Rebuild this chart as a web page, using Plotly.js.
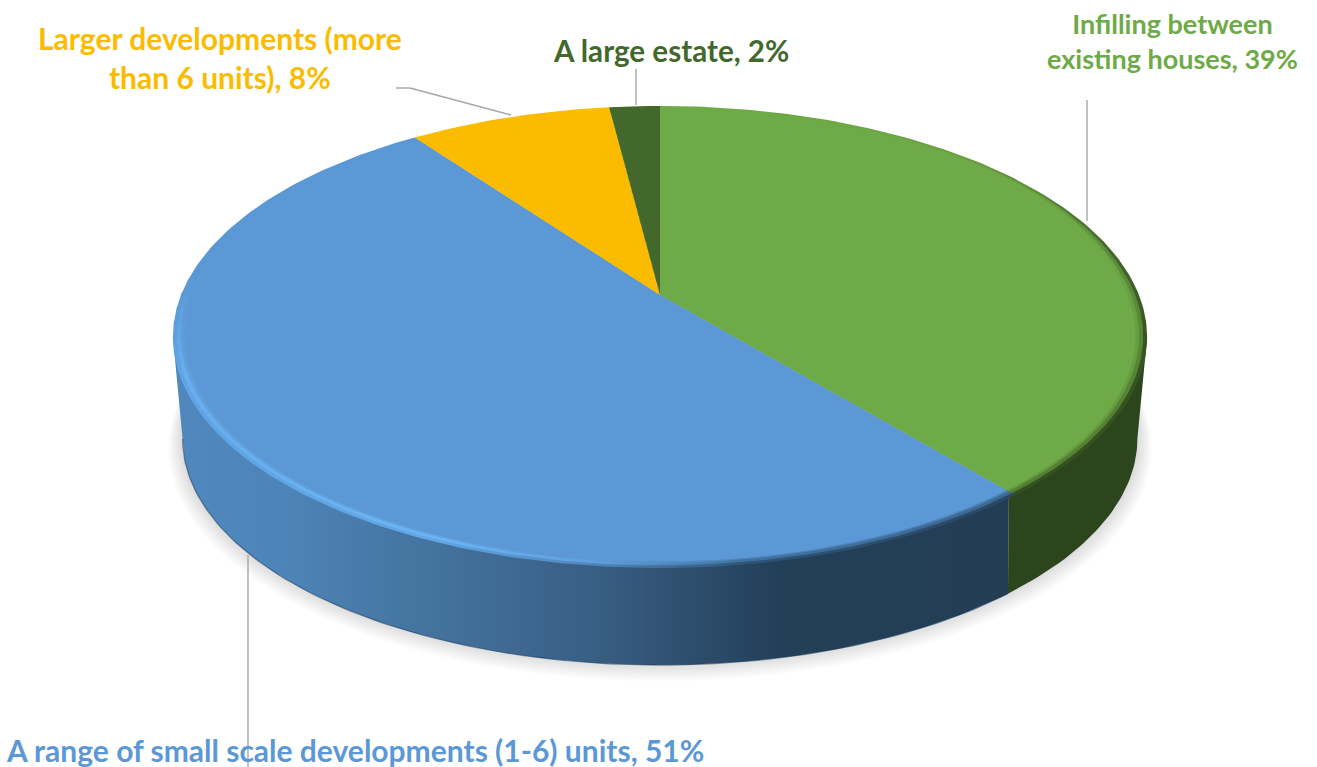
<!DOCTYPE html>
<html>
<head>
<meta charset="utf-8">
<script src="https://cdn.plot.ly/plotly-3.0.1.min.js"></script>
<style>
html,body{margin:0;padding:0;background:#fff;width:1317px;height:767px;overflow:hidden}
#wrap{position:relative;width:1317px;height:767px;overflow:hidden}
#base{position:absolute;left:0;top:0;width:1317px;height:767px}
#pie{position:absolute;left:0;top:0;width:1200px;height:1200px;transform-origin:0 0;pointer-events:none}
</style>
</head>
<body>
<div id="wrap"><div id="base"></div><div id="pie"></div></div>
<script>
// ---- data ----
const categories = ["Infilling between existing houses", "A range of small scale developments (1-6) units", "Larger developments (more than 6 units)", "A large estate"];
const shares = [39, 51, 8, 2];
const sliceColors = ["#6eaa47", "#5b98d5", "#fbbc00", "#43682b"];
const labelTexts = ["Infilling between<br>existing houses, 39%", "A range of small scale developments (1-6) units, 51%", "Larger developments (more<br>than 6 units), 8%", "A large estate, 2%"];
const labelSizes = [27, 30, 30, 29.6];

// ---- view geometry (perspective of the tilted disc) ----
const view = {X0: 660, Y0: 295, s: 479, t: 223.4, p: 0.1818, inner: 0.976};
const topPlane = {k: 1, y0: 295};
const lowPlane = {k: 0.98, y0: 397.5};
const total = shares.reduce((a, b) => a + b, 0);
const cum = [0];
shares.forEach(v => cum.push(cum[cum.length - 1] + v / total));
const silhouetteR = Math.acos(-view.p) / (2 * Math.PI);   // right-hand limit of the visible wall
const silhouetteL = 1 - silhouetteR;

function pt(f, r, plane) {
  const a = f * 2 * Math.PI, u = r * Math.sin(a), v = -r * Math.cos(a), w = 1 - view.p * v;
  return [view.X0 + view.s * plane.k * u / w, plane.y0 + view.t * plane.k * v / w];
}
function arc(f0, f1, r, plane) {
  const n = Math.max(4, Math.ceil(Math.abs(f1 - f0) * 360)), out = [];
  for (let i = 0; i <= n; i++) out.push(pt(f0 + (f1 - f0) * i / n, r, plane));
  return out;
}
function poly(points, extra) {
  return Object.assign({x: points.map(p => p[0]), y: points.map(p => p[1]), mode: 'lines', fill: 'toself',
    line: {width: 0}, hoverinfo: 'skip', showlegend: false, type: 'scatter'}, extra);
}
function mix(a, b, m) {
  const h = c => [1, 3, 5].map(i => parseInt(c.slice(i, i + 2), 16));
  const A = h(a), B = h(b);
  return 'rgb(' + A.map((v, i) => Math.round(v + (B[i] - v) * m)).join(',') + ')';
}
const traces = [];

// soft ground shadow
for (let i = 12; i >= 1; i--) {
  const f = i / 12;
  const plane = {k: lowPlane.k * (1 + .03 * f), y0: lowPlane.y0 + 10 * f - 2};
  traces.push(poly(arc(0, 1, 1, plane), {fillcolor: 'rgba(150,150,150,.028)'}));
}

// side wall (its upper edge runs under the bevel rings)
const wallBlue = [pt(cum[1], .985, topPlane)].concat(arc(cum[1], silhouetteL, .985, topPlane), [pt(silhouetteL, 1, topPlane)], arc(silhouetteL, cum[1], 1, lowPlane));
const blueXs = wallBlue.map(p => p[0]);
traces.push(poly(wallBlue, {fillgradient: {type: 'horizontal', start: Math.min(...blueXs), stop: Math.max(...blueXs),
  colorscale: [[0, '#5088bd'], [.12, '#4e85b9'], [.3, '#44749f'], [.5, '#395f85'], [.72, '#234059'], [1, '#233d55']]}}));
const wallGreen = [pt(silhouetteR, 1, topPlane)].concat(arc(silhouetteR, cum[1], .985, topPlane), arc(cum[1], silhouetteR, 1, lowPlane));
traces.push(poly(wallGreen, {fillcolor: '#2d451c'}));
// darker bottom edge of the wall
const edge = arc(cum[1], silhouetteL, 1, lowPlane);
traces.push({x: edge.map(p => p[0]), y: edge.map(p => p[1]), mode: 'lines',
  line: {color: 'rgba(30,60,95,.55)', width: 1.2}, hoverinfo: 'skip', showlegend: false, type: 'scatter'});

// bevel rings around the pie face: [outer r, inner r, blue stops, green stops]
const rings = [
  [1, .992,
   [[0, '#60a4e3'], [.3, '#61a6e6'], [.5, '#4f86ba'], [.68, '#2f5476'], [1, '#294866']],
   [[0, '#6eaa47'], [.15, '#66983f'], [.35, '#46692d'], [.6, '#38561f'], [1, '#33501f']]],
  [.992, .984,
   [[0, '#66aeee'], [.3, '#6cb5f5'], [.5, '#5f9fdc'], [.68, '#40729f'], [1, '#3c6891']],
   [[0, '#6eaa47'], [.2, '#6ca645'], [.4, '#5a8a3a'], [1, '#527f31']]],
  [.984, view.inner,
   [[0, '#5f9fdd'], [.3, '#62a4e2'], [.5, '#5b98d5'], [.68, '#4f86bd'], [1, '#4c81b5']],
   [[0, '#6eaa47'], [.3, '#6eaa47'], [.5, '#689f43'], [1, '#649a40']]]
];
const topY = pt(0, 1, topPlane)[1], bottomGreenY = pt(cum[1], 1, topPlane)[1];
const frontEnd = .70, fadeEnd = .76, fadeSteps = 6;
rings.forEach(rg => {
  const [ro, ri, blueStops, greenStops] = rg;
  const under = ri - .015;   // overlap the next ring so no seam shows
  const band = (f0, f1) => arc(f0, f1, ro, topPlane).concat(arc(f1, f0, under, topPlane));
  traces.push(poly(band(cum[0], cum[1]), {fillgradient: {type: 'vertical', start: topY, stop: bottomGreenY, colorscale: greenStops}}));
  traces.push(poly(band(fadeEnd, cum[2]), {fillcolor: sliceColors[1]}));
  for (let i = 0; i < fadeSteps; i++) {   // highlight fades out going up the left side
    const a = frontEnd + (fadeEnd - frontEnd) * i / fadeSteps, b = frontEnd + (fadeEnd - frontEnd) * (i + 1.2) / fadeSteps;
    traces.push(poly(band(a, b), {fillcolor: mix(blueStops[0][1], sliceColors[1], (i + .5) / fadeSteps)}));
  }
  const front = band(cum[1], frontEnd + .001);
  const xs = front.map(p => p[0]);
  traces.push(poly(front, {fillgradient: {type: 'horizontal', start: Math.min(...xs), stop: Math.max(...xs), colorscale: blueStops}}));
  traces.push(poly(band(cum[2], cum[3]), {fillcolor: sliceColors[2]}));
  traces.push(poly(band(cum[3], cum[4]), {fillcolor: sliceColors[3]}));
});

const leaders = [
  [[1087, 100], [1087, 221]],
  [[248, 555], [248, 767]],
  [[396, 88], [410, 88], [511, 115]],
  [[636, 69], [636, 105]]
];
const shapes = [];
leaders.forEach(l => {
  for (let i = 1; i < l.length; i++) shapes.push({type: 'line', xref: 'x', yref: 'y', x0: l[i-1][0], y0: l[i-1][1], x1: l[i][0], y1: l[i][1],
    line: {color: '#a6a6a6', width: 1.4}, layer: 'above'});
});
const labelSpots = [
  {x: 1172, y: 41, xanchor: 'center'},
  {x: 4, y: 750, xanchor: 'left'},
  {x: 220, y: 57, xanchor: 'center'},
  {x: 671, y: 50, xanchor: 'center'}
];
const annotations = labelTexts.map((t, i) => Object.assign({text: t, xref: 'x', yref: 'y', showarrow: false, yanchor: 'middle', align: 'center',
  font: {family: 'Lato, sans-serif', size: labelSizes[i], weight: 700, color: sliceColors[i]}}, labelSpots[i]));

Plotly.newPlot('base', traces, {
  width: 1317, height: 767, margin: {l: 0, r: 0, t: 0, b: 0},
  paper_bgcolor: '#fff', plot_bgcolor: '#fff', showlegend: false, hovermode: false,
  xaxis: {range: [0, 1317], visible: false, fixedrange: true},
  yaxis: {range: [767, 0], visible: false, fixedrange: true},
  shapes: shapes, annotations: annotations
}, {displayModeBar: false, staticPlot: true});

// the pie face: a genuine pie trace, tilted with a projective transform
const side = 1200, R = side / 2, c = side / 2, k = view.inner;
Plotly.newPlot('pie', [{
  type: 'pie', labels: categories, values: shares, sort: false, direction: 'clockwise', rotation: 0,
  marker: {colors: sliceColors, line: {width: 0}}, textinfo: 'none', showlegend: false, hoverinfo: 'label+percent',
  domain: {x: [0, 1], y: [0, 1]}
}], {width: side, height: side, margin: {l: 0, r: 0, t: 0, b: 0}, paper_bgcolor: 'rgba(0,0,0,0)', showlegend: false},
 {displayModeBar: false, staticPlot: true});
const {X0, Y0, s, t, p} = view;
const m11 = s * k / R, m12 = -X0 * p / R, m13 = X0 + X0 * p * c / R - s * k * c / R;
const m22 = t * k / R - Y0 * p / R, m23 = Y0 + Y0 * p * c / R - t * k * c / R;
const m32 = -p / R, m33 = 1 + p * c / R;
document.getElementById('pie').style.transform = 'matrix3d(' + [m11, 0, 0, 0, m12, m22, 0, m32, 0, 0, 1, 0, m13, m23, 0, m33].join(',') + ')';
</script>
</body>
</html>
